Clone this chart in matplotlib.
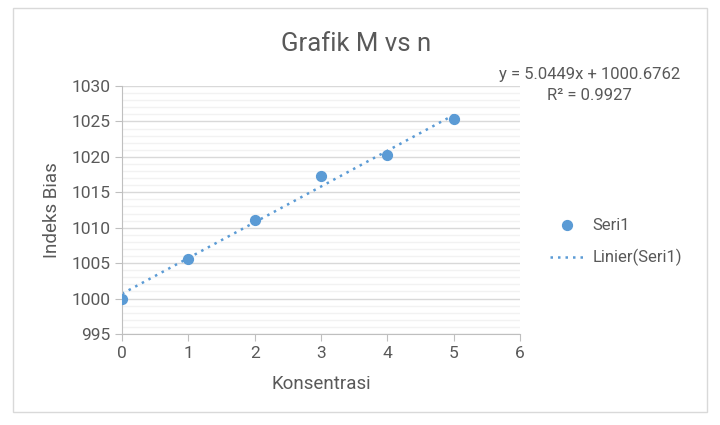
import matplotlib
matplotlib.use("Agg")
import matplotlib.pyplot as plt
from matplotlib.patches import Rectangle
from matplotlib.ticker import MultipleLocator

plt.rcParams['font.family'] = ['Roboto', 'DejaVu Sans']

# data
konsentrasi = [0, 1, 2, 3, 4, 5]
indeks_bias = [1000.0, 1005.6, 1011.1, 1017.3, 1020.3, 1025.4]
slope = 5.0449
intercept = 1000.6762
r_squared = 0.9927

text_col = '#595959'
point_col = '#5B9BD5'

fig = plt.figure(figsize=(7.2, 4.25), dpi=100)
# chart frame
fig.patches.append(Rectangle((13 / 720, 1 - 412 / 425), 694 / 720, 404 / 425,
                             transform=fig.transFigure, fill=False,
                             edgecolor='#D9D9D9', linewidth=1))

ax = fig.add_axes([122 / 720, 1 - 334 / 425, 398 / 720, 248 / 425])

ax.scatter(konsentrasi, indeks_bias, s=50, color=point_col, zorder=3, label='Seri1')
trend_x = [konsentrasi[0], konsentrasi[-1]]
trend_y = [slope * x + intercept for x in trend_x]
ax.plot(trend_x, trend_y, linestyle=(0, (1, 2)), color=point_col, linewidth=1.8,
        zorder=2, label='Linier(Seri1)')

ax.set_xlim(0, 6)
ax.set_ylim(995, 1030)
ax.xaxis.set_major_locator(MultipleLocator(1))
ax.yaxis.set_major_locator(MultipleLocator(5))
ax.yaxis.set_minor_locator(MultipleLocator(1))
ax.grid(True, which='major', axis='y', color='#D9D9D9', linewidth=1)
ax.grid(True, which='minor', axis='y', color='#F2F2F2', linewidth=1)
ax.set_axisbelow(True)

for side in ['top', 'right']:
    ax.spines[side].set_visible(False)
for side in ['left', 'bottom']:
    ax.spines[side].set_color('#BFBFBF')
ax.tick_params(axis='both', which='major', colors='#BFBFBF', labelcolor=text_col,
               labelsize=12.5, length=5, direction='out')
ax.tick_params(axis='y', which='minor', length=0)

ax.set_xlabel('Konsentrasi', fontsize=13.5, color=text_col, labelpad=10)
ax.set_ylabel('Indeks Bias', fontsize=13.5, color=text_col, labelpad=7)
fig.text(356 / 720, 1 - 44 / 425, 'Grafik M vs n', fontsize=18.5, color=text_col,
         ha='center', va='center')

fig.text(680 / 720, 1 - 75 / 425, f'y = {slope}x + {intercept}', fontsize=12,
         color=text_col, ha='right', va='center')
fig.text(589 / 720, 1 - 96 / 425, f'R² = {r_squared}', fontsize=12,
         color=text_col, ha='center', va='center')

fig.legend(loc='center left', bbox_to_anchor=(535 / 720, 1 - 242 / 425),
           frameon=False, fontsize=12, labelcolor=text_col, handlelength=2.0,
           labelspacing=1.0, handletextpad=0.55)

fig.savefig('out.png', dpi=100, facecolor='white')
